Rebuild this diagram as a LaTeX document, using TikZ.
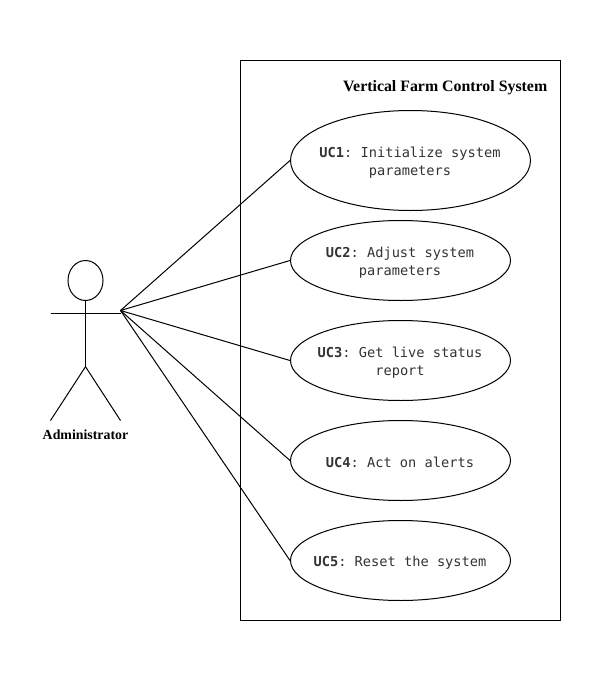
\documentclass[tikz,border=0pt]{standalone}
\usepackage{fontspec}
\setmainfont{Liberation Serif}
\setmonofont{DejaVu Sans Mono}
\usetikzlibrary{shapes.geometric}
\definecolor{uctext}{gray}{0.2}
\tikzset{
  every picture/.style={x=0.75pt,y=-0.75pt},
  uc/.style={draw,ellipse,line width=0.75pt,inner sep=0pt},
  uclab/.style={inner sep=0pt,text=uctext,font=\ttfamily\fontsize{10.25pt}{13.5pt}\selectfont,align=center},
  conn/.style={line width=0.75pt},
  lab/.style={font=\bfseries\fontsize{10.4pt}{12pt}\selectfont,inner sep=0pt},
  titlelab/.style={font=\bfseries\fontsize{11.9pt}{14pt}\selectfont,inner sep=0pt}
}
\begin{document}
\begin{tikzpicture}
\useasboundingbox (0,0) rectangle (612,682);
\fill[white] (0,0) rectangle (612,682);
\node[draw,line width=0.75pt,minimum width=240pt,minimum height=420pt,inner sep=0pt] (sys) at (400.5,340.5) {};
\node[titlelab,anchor=east] (title) at (547.5,87.5) {Vertical Farm Control System};
\node[uc,minimum width=180pt,minimum height=75pt] (u1) at (410.5,160.5) {};
\node[uc,minimum width=165pt,minimum height=60pt] (u2) at (400.5,260.5) {};
\node[uc,minimum width=165pt,minimum height=60pt] (u3) at (400.5,360.5) {};
\node[uc,minimum width=165pt,minimum height=60pt] (u4) at (400.5,460.5) {};
\node[uc,minimum width=165pt,minimum height=60pt] (u5) at (400.5,560.5) {};
\node[uclab] (t1) at (410,162.5) {\textbf{UC1}: Initialize system\\parameters};
\node[uclab] (t2) at (400,262.5) {\textbf{UC2}: Adjust system\\parameters};
\node[uclab] (t3) at (400,362.5) {\textbf{UC3}: Get live status\\report};
\node[uclab] (t4) at (400,462.5) {\textbf{UC4}: Act on alerts};
\node[uclab] (t5) at (400,562.5) {\textbf{UC5}: Reset the system};
\node[draw,ellipse,line width=0.75pt,minimum width=26.25pt,minimum height=30pt,inner sep=0pt] (head) at (85.5,280.5) {};
\coordinate (hip) at (85.5,366.7);
\coordinate (armL) at (50.5,313.2);
\coordinate (armR) at (120.5,313.2);
\coordinate (footL) at (50.5,420.5);
\coordinate (footR) at (120.5,420.5);
\coordinate (hub) at (120.5,310.5);
\draw[conn] (head.south) -- (hip);
\draw[conn] (armL) -- (armR);
\draw[conn] (hip) -- (footL);
\draw[conn] (hip) -- (footR);
\node[lab] (adm) at (85.5,434.5) {Administrator};
\draw[conn] (hub) -- (u1.west);
\draw[conn] (hub) -- (u2.west);
\draw[conn] (hub) -- (u3.west);
\draw[conn] (hub) -- (u4.west);
\draw[conn] (hub) -- (u5.west);
\end{tikzpicture}
\end{document}
